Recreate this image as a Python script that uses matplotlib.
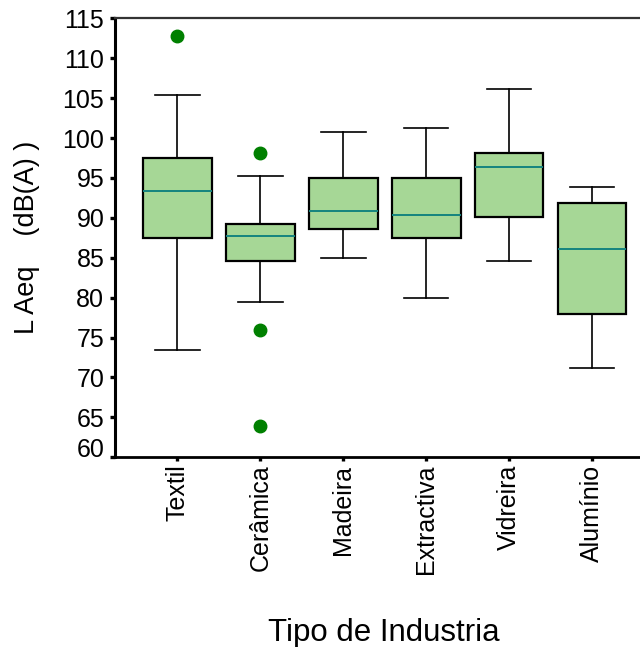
import matplotlib.pyplot as plt
import matplotlib.transforms as mtransforms

plt.rcParams['font.family'] = ['Liberation Sans', 'DejaVu Sans']

industries = ["Textil", "Cerâmica", "Madeira", "Extractiva", "Vidreira", "Alumínio"]
whisker_low = [73.4, 79.5, 85.0, 79.9, 84.6, 71.2]
q1 = [87.5, 84.6, 88.6, 87.5, 90.1, 78.0]
medians = [93.4, 87.7, 90.8, 90.4, 96.4, 86.1]
q3 = [97.5, 89.2, 95.0, 95.0, 98.1, 91.9]
whisker_high = [105.4, 95.2, 100.8, 101.3, 106.1, 93.9]
outliers = [[112.8], [98.1, 75.9, 63.9], [], [], [], []]

stats = []
for i, name in enumerate(industries):
    stats.append({
        "label": name,
        "whislo": whisker_low[i],
        "q1": q1[i],
        "med": medians[i],
        "q3": q3[i],
        "whishi": whisker_high[i],
        "fliers": outliers[i],
    })

fig = plt.figure(figsize=(6.4, 6.47), dpi=100)
ax = fig.add_axes([0.18, 0.2932, 0.82, 0.6785])

ax.bxp(stats, positions=range(1, 7), widths=0.83, patch_artist=True,
       boxprops=dict(facecolor="#a6d796", edgecolor="black", linewidth=1.6),
       medianprops=dict(color="#15837f", linewidth=1.4),
       whiskerprops=dict(color="black", linewidth=1.2),
       capprops=dict(color="black", linewidth=1.2),
       capwidths=0.54,
       flierprops=dict(marker="o", markerfacecolor="#008000", markeredgecolor="#008000",
                       markersize=9, linestyle="none"))

ax.set_xlim(0.25, 6.58)
ax.set_ylim(60, 115)
ax.set_yticks(range(60, 116, 5))
ax.set_xticks(range(1, 7))
ax.set_xticklabels(industries, rotation=90, ha="center", va="top", fontsize=18)
ax.tick_params(axis="y", labelsize=18, length=3.8, width=2.4, direction="out", pad=4)
ax.tick_params(axis="x", length=3.2, width=2.4, direction="out", pad=2)

# lift the "60" label off the corner like the original
lab60 = ax.get_yticklabels()[0]
lab60.set_transform(lab60.get_transform() +
                    mtransforms.ScaledTranslation(0, 7 / 72, fig.dpi_scale_trans))

ax.spines["right"].set_visible(False)
ax.spines["left"].set_linewidth(2.2)
ax.spines["bottom"].set_linewidth(2.0)
ax.spines["top"].set_linewidth(1.6)
ax.spines["top"].set_color("#333333")

ax.set_ylabel("L Aeq    (dB(A) )", fontsize=19.5, labelpad=16)
fig.text(0.6, 1 - 641 / 647, "Tipo de Industria", fontsize=22.5, ha="center", va="baseline")

plt.savefig("out.png", dpi=100)
plt.close()
